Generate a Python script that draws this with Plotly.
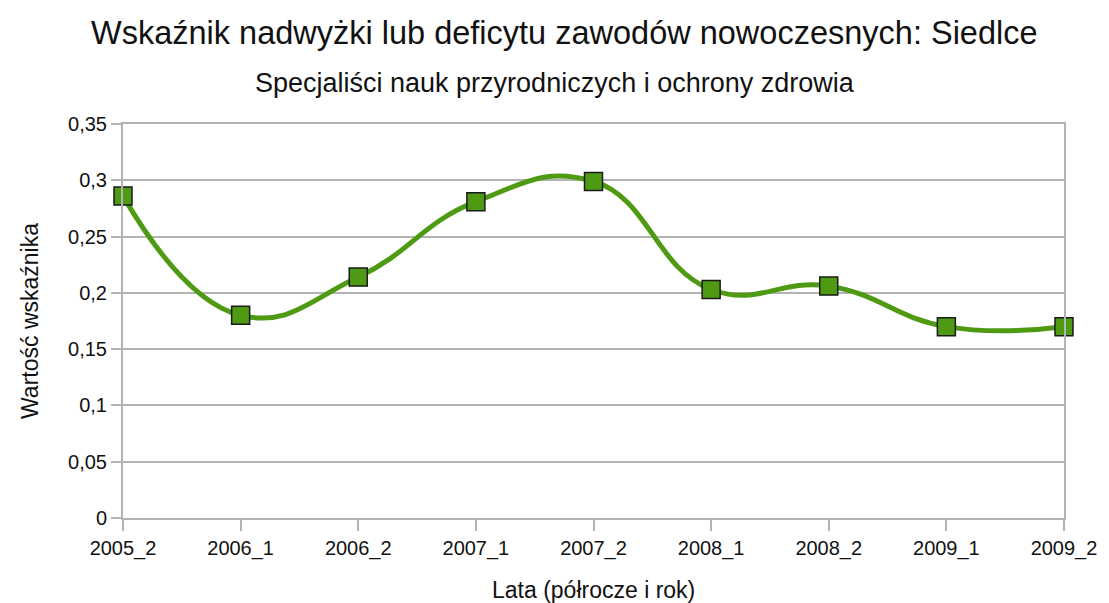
import plotly.graph_objects as go

categories = ["2005_2", "2006_1", "2006_2", "2007_1", "2007_2", "2008_1", "2008_2", "2009_1", "2009_2"]
values = [0.286, 0.180, 0.214, 0.281, 0.299, 0.203, 0.206, 0.170, 0.170]
y_ticks = [0, 0.05, 0.1, 0.15, 0.2, 0.25, 0.3, 0.35]

title = "Wskaźnik nadwyżki lub deficytu zawodów nowoczesnych: Siedlce"
subtitle = "Specjaliści nauk przyrodniczych i ochrony zdrowia"
x_title = "Lata (półrocze i rok)"
y_title = "Wartość wskaźnika"

font = "Liberation Sans, Arial, sans-serif"
green = "#4f9a13"
txt = "#111111"
grey = "#b3b3b3"

fig = go.Figure()
fig.add_trace(go.Scatter(
    x=list(range(len(categories))), y=values, mode="lines+markers",
    line=dict(color=green, width=5, shape="spline", smoothing=1.3),
    marker=dict(symbol="square", size=18, color=green, line=dict(color="#1a1a1a", width=1.5)),
    cliponaxis=False, showlegend=False,
))

fig.update_layout(
    width=1109, height=603,
    margin=dict(l=123, r=38, t=124, b=85),
    paper_bgcolor="white", plot_bgcolor="white",
    separators=", ",
    font=dict(family=font, color=txt),
    xaxis=dict(
        range=[0, len(categories) - 1],
        tickmode="array", tickvals=list(range(len(categories))), ticktext=categories,
        showgrid=False, showline=True, linecolor=grey, linewidth=2, mirror=True,
        ticks="outside", ticklen=11, tickcolor=grey, tickwidth=2,
        tickfont=dict(size=20, family=font, color=txt),
        zeroline=False,
    ),
    yaxis=dict(
        range=[0, 0.35], tickvals=y_ticks,
        showgrid=True, gridcolor=grey, gridwidth=1.5,
        showline=True, linecolor=grey, linewidth=2, mirror=True,
        ticks="outside", ticklen=10, tickcolor=grey, tickwidth=2,
        tickfont=dict(size=20, family=font, color=txt),
        zeroline=False,
    ),
    annotations=[
        dict(text=title, x=0.469, y=1, xref="paper", yref="paper", yanchor="middle",
             yshift=91, showarrow=False, font=dict(size=32.5, family=font, color=txt)),
        dict(text=subtitle, x=0.459, y=1, xref="paper", yref="paper", yanchor="middle",
             yshift=41, showarrow=False, font=dict(size=27, family=font, color=txt)),
        dict(text=x_title, x=0.5, y=0, xref="paper", yref="paper", yanchor="middle",
             yshift=-72, showarrow=False, font=dict(size=23, family=font, color=txt)),
        dict(text=y_title, x=0, y=0.5, xref="paper", yref="paper", xanchor="center",
             xshift=-93, textangle=-90, showarrow=False, font=dict(size=23, family=font, color=txt)),
    ],
)

fig.write_html(
    "out.html",
    config={"displayModeBar": False},
    post_script="document.body.style.margin='0';document.body.style.overflow='hidden';",
)
